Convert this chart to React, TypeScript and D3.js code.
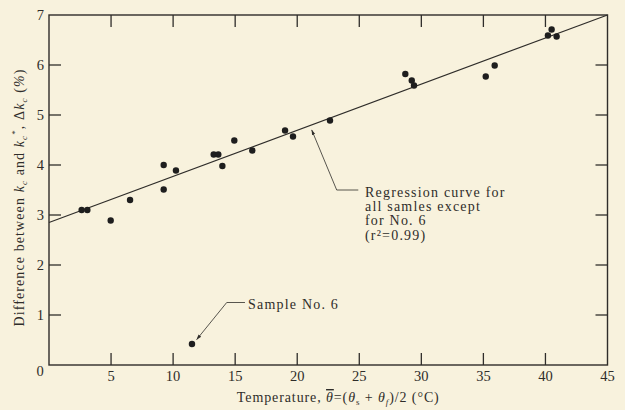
import * as d3 from 'd3'

// --- DATA ---
const tempX: number[] = [
  2.63, 3.09, 4.97, 6.53, 9.24, 9.24, 10.23, 13.27, 13.64, 13.97, 14.93, 16.38,
  19.02, 19.66, 22.64, 28.71, 29.23, 29.41, 35.19, 35.91, 40.2, 40.5, 40.9,
]
const deltaK: number[] = [
  3.1, 3.1, 2.89, 3.3, 4.0, 3.51, 3.89, 4.21, 4.21, 3.98, 4.49, 4.29, 4.69, 4.57,
  4.89, 5.82, 5.69, 5.59, 5.77, 5.99, 6.59, 6.71, 6.57,
]
const sampleNo6 = { x: 11.52, y: 0.42 }
const regression = { intercept: 2.85, slope: (7 - 2.85) / 45 }
const xTicks = [5, 10, 15, 20, 25, 30, 35, 40, 45]
const yTicks = [1, 2, 3, 4, 5, 6, 7]
const regNote = ['Regression curve for', 'all samles except', 'for No. 6', '(r²=0.99)']

const W = 625
const H = 410
const margin = { left: 49, right: 17.5, top: 15, bottom: 45 }
const ink = '#2f2d2a'
const font = '"Liberation Serif", "DejaVu Serif", serif'

export default function App() {
  const x = d3.scaleLinear().domain([0, 45]).range([margin.left, W - margin.right])
  const y = d3.scaleLinear().domain([0, 7]).range([H - margin.bottom, margin.top])
  const tick = 12

  const regLine = d3
    .line<number>()
    .x((d) => x(d))
    .y((d) => y(regression.intercept + regression.slope * d))([0, 45])

  // annotation leaders (data coords), drawn from the label end to the arrow tip
  const regLeader: [number, number][] = [
    [24.92, 3.5],
    [23.18, 3.5],
    [21.17, 4.7],
  ]
  const s6Leader: [number, number][] = [
    [15.79, 1.25],
    [14.32, 1.25],
    [11.9, 0.51],
  ]
  const leader = d3
    .line<[number, number]>()
    .x((d) => x(d[0]))
    .y((d) => y(d[1]))

  const textStyle = { fontFamily: font, fill: ink }

  return (
    <svg
      width={W}
      height={H}
      style={{ position: 'absolute', left: 0, top: 0, background: '#f8f2dd' }}
    >
      <defs>
        <marker
          id="arr"
          viewBox="0 0 10 10"
          refX="9"
          refY="5"
          markerWidth="7"
          markerHeight="7"
          orient="auto"
        >
          <path d="M0,2 L10,5 L0,8 z" fill={ink} />
        </marker>
      </defs>
      <rect width={W} height={H} fill="#f8f2dd" />

      {/* frame */}
      <rect
        x={x(0)}
        y={y(7)}
        width={x(45) - x(0)}
        height={y(0) - y(7)}
        fill="none"
        stroke={ink}
        strokeWidth={1.4}
      />

      {/* ticks, all inward */}
      {xTicks.slice(0, -1).map((t) => (
        <g key={'xt' + t} stroke={ink} strokeWidth={1.3}>
          <line x1={x(t)} x2={x(t)} y1={y(0)} y2={y(0) - tick} />
          <line x1={x(t)} x2={x(t)} y1={y(7)} y2={y(7) + tick} />
        </g>
      ))}
      {yTicks.slice(0, -1).map((t) => (
        <g key={'yt' + t} stroke={ink} strokeWidth={1.3}>
          <line x1={x(0)} x2={x(0) + tick} y1={y(t)} y2={y(t)} />
          <line x1={x(45)} x2={x(45) - tick} y1={y(t)} y2={y(t)} />
        </g>
      ))}

      {/* tick labels */}
      {xTicks.map((t) => (
        <text
          key={'xl' + t}
          x={x(t)}
          y={y(0) + 16}
          textAnchor="middle"
          fontSize={14.5}
          style={textStyle}
        >
          {t}
        </text>
      ))}
      {yTicks.map((t) => (
        <text
          key={'yl' + t}
          x={x(0) - 5}
          y={y(t) + 5}
          textAnchor="end"
          fontSize={14.5}
          style={textStyle}
        >
          {t}
        </text>
      ))}
      <text x={x(0) - 9} y={y(0) + 11} textAnchor="middle" fontSize={14.5} style={textStyle}>
        0
      </text>

      {/* regression line */}
      <path d={regLine ?? ''} fill="none" stroke={ink} strokeWidth={1.2} />

      {/* points */}
      {tempX.map((t, i) => (
        <circle key={'p' + i} cx={x(t)} cy={y(deltaK[i])} r={3.2} fill="#1e1e1e" />
      ))}
      <circle cx={x(sampleNo6.x)} cy={y(sampleNo6.y)} r={3.2} fill="#1e1e1e" />

      {/* annotations */}
      <path
        d={leader(regLeader) ?? ''}
        fill="none"
        stroke={ink}
        strokeWidth={0.8}
        markerEnd="url(#arr)"
      />
      {regNote.map((line, i) => (
        <text
          key={'rn' + i}
          x={x(25.46)}
          y={y(3.36) + i * 14.2}
          fontSize={14}
          letterSpacing={1.2}
          style={textStyle}
        >
          {line}
        </text>
      ))}

      <path
        d={leader(s6Leader) ?? ''}
        fill="none"
        stroke={ink}
        strokeWidth={0.8}
        markerEnd="url(#arr)"
      />
      <text x={x(16.04)} y={y(1.12)} fontSize={14} letterSpacing={1.2} style={textStyle}>
        Sample No. 6
      </text>

      {/* x axis title */}
      <text
        x={(x(0) + x(45)) / 2 + 10}
        y={402}
        textAnchor="middle"
        fontSize={14}
        letterSpacing={0.9}
        style={textStyle}
      >
        Temperature,{' '}
        <tspan fontStyle="italic" textDecoration="overline">θ</tspan>
        =(<tspan fontStyle="italic">θ</tspan>
        <tspan fontSize={9} dy={3}>s</tspan>
        <tspan dy={-3}> + </tspan>
        <tspan fontStyle="italic">θ</tspan>
        <tspan fontSize={9} dy={3} fontStyle="italic">f</tspan>
        <tspan dy={-3}>)/2 (°C)</tspan>
      </text>

      {/* y axis title */}
      <text
        transform={`translate(24, ${(62 + 333) / 2}) rotate(-90)`}
        textAnchor="middle"
        fontSize={14}
        letterSpacing={1.1}
        style={textStyle}
      >
        Difference between <tspan fontStyle="italic">k</tspan>
        <tspan fontSize={9} dy={3} fontStyle="italic">c</tspan>
        <tspan dy={-3}> and </tspan>
        <tspan fontStyle="italic">k</tspan>
        <tspan fontSize={9} dy={3} fontStyle="italic">c</tspan>
        <tspan fontSize={9} dy={-9}>*</tspan>
        <tspan dy={6}>, Δ</tspan>
        <tspan fontStyle="italic">k</tspan>
        <tspan fontSize={9} dy={3} fontStyle="italic">c</tspan>
        <tspan dy={-3}> (</tspan>
        <tspan fontStyle="italic">%</tspan>)
      </text>
    </svg>
  )
}
